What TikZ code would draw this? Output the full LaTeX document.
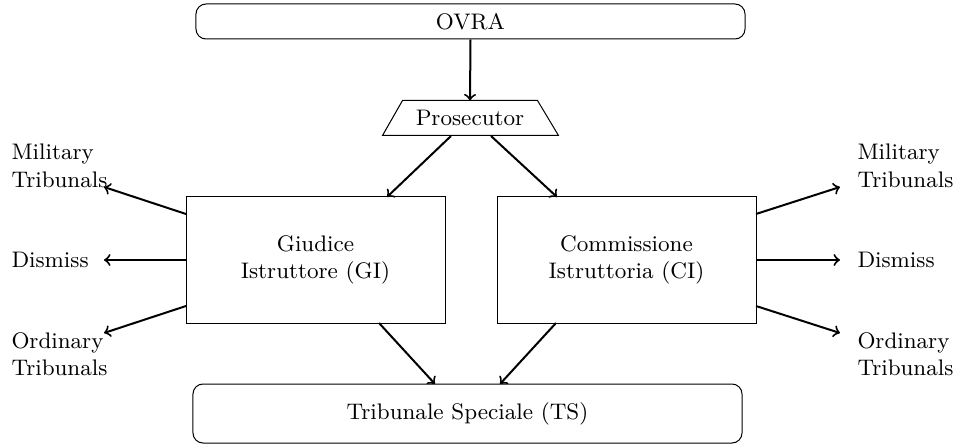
\documentclass[tikz,border=0pt]{standalone}
\usetikzlibrary{shapes.geometric,calc}
\begin{document}
\begin{tikzpicture}[x=0.4pt,y=-0.4pt,
  every node/.style={font=\fontsize{9pt}{11pt}\selectfont},
  rbox/.style={draw,rounded corners=4pt,inner sep=0pt,align=center},
  sbox/.style={draw,inner sep=0pt,align=center,minimum width=103.6pt,minimum height=50.4pt},
  lbl/.style={inner sep=0pt,align=left,anchor=west},
  arr/.style={->,thick}]
\useasboundingbox (0,0) rectangle (953,446);
\node[rbox,minimum width=219.6pt,minimum height=14pt] (ovra) at (470.5,21.5) {OVRA};
\node[inner sep=0pt,minimum width=53.6pt,minimum height=13.6pt] (pros) at (470,118) {Prosecutor};
\draw (pros.north west) -- (pros.north east) -- ($(pros.south east)+(21,0)$) -- ($(pros.south west)+(-20,0)$) -- cycle;
\node[sbox] (gi) at (315.5,260) {Giudice\\Istruttore (GI)};
\node[sbox] (ci) at (626.5,260) {Commissione\\Istruttoria (CI)};
\node[rbox,minimum width=219.6pt,minimum height=23.6pt] (ts) at (467.5,413.5) {Tribunale Speciale (TS)};
% labels
\node[lbl] (lmt) at (11,166) {Military\\Tribunals};
\node[lbl] (ld) at (11,260) {Dismiss};
\node[lbl] (lot) at (11,354) {Ordinary\\Tribunals};
\node[lbl] (rmt) at (857,166) {Military\\Tribunals};
\node[lbl] (rd) at (857,260) {Dismiss};
\node[lbl] (rot) at (857,354) {Ordinary\\Tribunals};
% coordinates
\coordinate (p1) at (451,136);
\coordinate (p2) at (491,136);
\coordinate (g1) at (387,197);
\coordinate (c1) at (557,197);
\coordinate (g2) at (379,323);
\coordinate (c2) at (556,323);
\coordinate (t1) at (435,384);
\coordinate (t2) at (500,384);
\coordinate (gw1) at (186,214);
\coordinate (gw2) at (186,260);
\coordinate (gw3) at (186,306);
\coordinate (ce1) at (756,214);
\coordinate (ce2) at (756,260);
\coordinate (ce3) at (756,306);
\coordinate (lmte) at (104,187);
\coordinate (lde) at (104,260);
\coordinate (lote) at (104,333);
\coordinate (rmte) at (840,187);
\coordinate (rde) at (840,260);
\coordinate (rote) at (840,333);
% arrows
\draw[arr] (ovra.south) -- (pros.north);
\draw[arr] (p1) -- (g1);
\draw[arr] (p2) -- (c1);
\draw[arr] (g2) -- (t1);
\draw[arr] (c2) -- (t2);
\draw[arr] (gw1) -- (lmte);
\draw[arr] (gw2) -- (lde);
\draw[arr] (gw3) -- (lote);
\draw[arr] (ce1) -- (rmte);
\draw[arr] (ce2) -- (rde);
\draw[arr] (ce3) -- (rote);
\end{tikzpicture}
\end{document}
